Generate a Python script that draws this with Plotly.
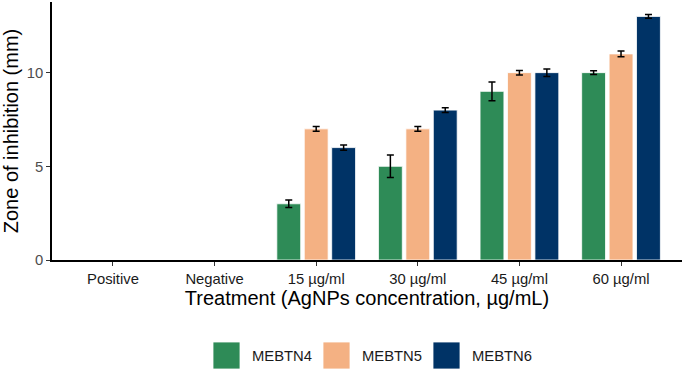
import plotly.graph_objects as go

categories = ["Positive", "Negative", "15 µg/ml", "30 µg/ml", "45 µg/ml", "60 µg/ml"]
series_names = ["MEBTN4", "MEBTN5", "MEBTN6"]
mebtn4 = [0, 0, 3, 5, 9, 10]
mebtn5 = [0, 0, 7, 7, 10, 11]
mebtn6 = [0, 0, 6, 8, 10, 13]
mebtn4_err = [0, 0, 0.2, 0.6, 0.5, 0.1]
mebtn5_err = [0, 0, 0.13, 0.13, 0.12, 0.15]
mebtn6_err = [0, 0, 0.14, 0.13, 0.2, 0.1]
y_ticks = [0, 5, 10]

colors = ["#2E8B57", "#F4B183", "#003366"]
values = [mebtn4, mebtn5, mebtn6]
errors = [mebtn4_err, mebtn5_err, mebtn6_err]

FONT = "Liberation Sans, Arial, sans-serif"

fig = go.Figure()
for name, vals, errs, col in zip(series_names, values, errors, colors):
    # zero-height bars (no inhibition) are drawn as empty, with no error bar
    yv = [v if v > 0 else None for v in vals]
    fig.add_trace(go.Bar(
        x=categories, y=yv, name=name,
        marker=dict(color=col, line=dict(color="white", width=0.8)),
        error_y=dict(type="data", array=errs, visible=True, color="black",
                     thickness=1.5, width=3.5),
        showlegend=False, hoverinfo="skip",
    ))

# manual legend (large square keys), positioned in paper coordinates
W, H = 685, 371
L, R, T, B = 52, 3, 2, 111
pw, ph = W - L - R, H - T - B
def px_x(x):
    return (x - L) / pw
def px_y(y):
    return (H - B - y) / ph

key_left0 = 213
step = 110
for i, (name, col) in enumerate(zip(series_names, colors)):
    x0 = key_left0 + i * step
    fig.add_shape(type="rect", xref="paper", yref="paper",
                  x0=px_x(x0), x1=px_x(x0 + 27), y0=px_y(369), y1=px_y(342),
                  fillcolor=col, line=dict(color="white", width=0.8), layer="above")
    fig.add_annotation(xref="paper", yref="paper", x=px_x(x0 + 37), y=px_y(356),
                       text=name, showarrow=False, xanchor="left", yanchor="middle",
                       font=dict(family=FONT, size=14.8, color="#1a1a1a"))

fig.update_layout(
    width=W, height=H,
    margin=dict(l=L, r=R, t=T, b=B),
    paper_bgcolor="white", plot_bgcolor="white",
    barmode="group", bargap=0.19, bargroupgap=0.13,
    hovermode=False,
    font=dict(family=FONT, size=14.8, color="#4D4D4D"),
)
fig.update_xaxes(
    range=[-0.6, 5.6], showline=True, linecolor="black", linewidth=1.5,
    ticks="outside", ticklen=4, tickcolor="#333333", tickwidth=1.2,
    showgrid=False, zeroline=False,
    tickfont=dict(family=FONT, size=14.8, color="#1a1a1a"),
    title=dict(text="Treatment (AgNPs concentration, µg/mL)",
               font=dict(family=FONT, size=20, color="black"), standoff=4),
)
fig.update_yaxes(
    range=[0, 13.77], tickvals=y_ticks, showline=True, linecolor="black", linewidth=1.5,
    ticks="outside", ticklen=4, tickcolor="#333333", tickwidth=1.2,
    showgrid=False, zeroline=False,
    tickfont=dict(family=FONT, size=14.8, color="#4D4D4D"),
    title=dict(text="Zone of inhibition (mm)",
               font=dict(family=FONT, size=20, color="black"), standoff=4),
)

fig.write_html("out.html", config={"displayModeBar": False},
               post_script="document.body.style.margin='0';")
